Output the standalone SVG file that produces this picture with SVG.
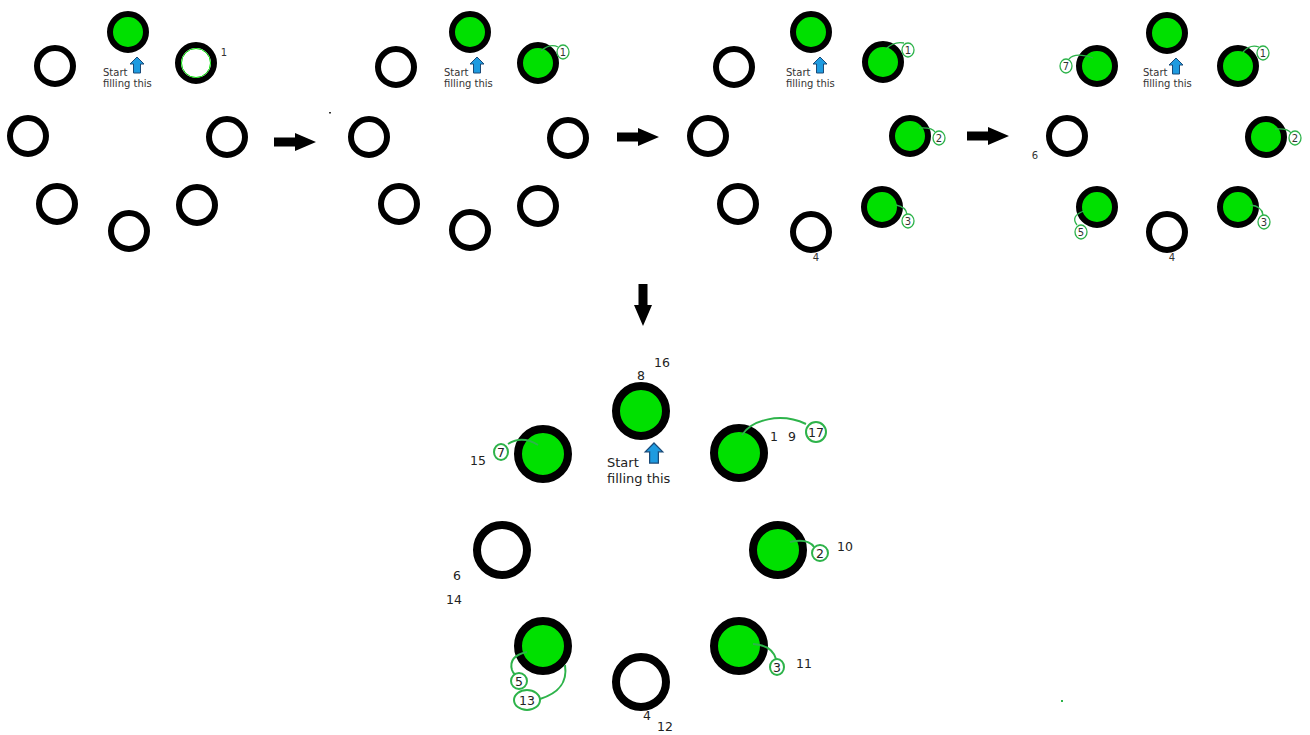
<svg xmlns="http://www.w3.org/2000/svg" width="1310" height="735" viewBox="0 0 1310 735">
<style>
.s{fill:#fff;stroke:#000;stroke-width:6}
.sf{fill:#00e000;stroke:#000;stroke-width:6}
.b{fill:#fff;stroke:#000;stroke-width:8}
.bf{fill:#00e000;stroke:#000;stroke-width:8}
.lead{fill:none;stroke:#2db34a;stroke-width:1.3}
.tag{fill:#fff;stroke:#2db34a;stroke-width:1.3}
.blead{fill:none;stroke:#2db34a;stroke-width:2}
.btag{fill:#fff;stroke:#2db34a;stroke-width:2}
.t{font-family:"DejaVu Sans",Verdana,sans-serif;fill:#333;font-size:10px}
.tb{font-family:"DejaVu Sans",Verdana,sans-serif;fill:#222;font-size:13px}
.n{font-family:"DejaVu Sans",Verdana,sans-serif;fill:#333;font-size:10px;text-anchor:middle}
.nb{font-family:"DejaVu Sans",Verdana,sans-serif;fill:#222;font-size:12.5px;text-anchor:middle}
.up{fill:#1e9be0;stroke:#1a4a78;stroke-width:1}
.big{fill:#000}
</style>
<defs>
<path id="sa" d="M0,-8 L7,-1 L3.5,-1 L3.5,8 L-3.5,8 L-3.5,-1 L-7,-1 Z"/>
<path id="ra" d="M0,-4.5 L21,-4.5 L21,-9 L42,0 L21,9 L21,4.5 L0,4.5 Z"/>
</defs>

<g id="connectors">
<use href="#ra" class="big" x="274" y="142"/>
<use href="#ra" class="big" x="617" y="137"/>
<use href="#ra" class="big" x="967" y="136"/>
<use href="#ra" class="big" transform="translate(643,284) rotate(90)"/>
</g>

<g id="panel1">
<g id="p1-top"><circle class="sf" cx="128" cy="32" r="18"/></g>
<g id="p1-ul"><circle class="s" cx="55" cy="66" r="18"/></g>
<g id="p1-ur"><circle class="s" cx="196" cy="63" r="18"/><circle cx="196" cy="63" r="14.5" fill="none" stroke="#00e000" stroke-width="1"/><text class="n" x="224" y="56">1</text></g>
<g id="p1-l"><circle class="s" cx="28" cy="136" r="18"/></g>
<g id="p1-r"><circle class="s" cx="227" cy="137" r="18"/></g>
<g id="p1-ll"><circle class="s" cx="57" cy="204" r="18"/></g>
<g id="p1-lr"><circle class="s" cx="197" cy="205" r="18"/></g>
<g id="p1-b"><circle class="s" cx="129" cy="231" r="18"/></g>
<g id="p1-note"><use href="#sa" class="up" x="137" y="65"/><text class="t" x="103" y="76">Start</text><text class="t" x="103" y="87">filling this</text></g>
</g>

<g id="panel2">
<g id="p2-top"><circle class="sf" cx="470" cy="32" r="18"/></g>
<g id="p2-ul"><circle class="s" cx="396" cy="67" r="18"/></g>
<g id="p2-ur"><circle class="sf" cx="538" cy="63" r="18"/><path class="lead" d="M541,51 Q550,43 558,47"/><ellipse class="tag" cx="563" cy="52" rx="6" ry="7"/><text class="n" x="563" y="56">1</text></g>
<g id="p2-l"><circle class="s" cx="369" cy="137" r="18"/></g>
<g id="p2-r"><circle class="s" cx="568" cy="138" r="18"/></g>
<g id="p2-ll"><circle class="s" cx="399" cy="204" r="18"/></g>
<g id="p2-lr"><circle class="s" cx="538" cy="206" r="18"/></g>
<g id="p2-b"><circle class="s" cx="470" cy="230" r="18"/></g>
<g id="p2-note"><use href="#sa" class="up" x="477" y="65"/><text class="t" x="444" y="76">Start</text><text class="t" x="444" y="87">filling this</text></g>
<rect x="329" y="112" width="2" height="1.5" fill="#333"/>
</g>

<g id="panel3">
<g id="p3-top"><circle class="sf" cx="811" cy="32" r="18"/></g>
<g id="p3-ul"><circle class="s" cx="734" cy="67" r="18"/></g>
<g id="p3-ur"><circle class="sf" cx="883" cy="62" r="18"/><path class="lead" d="M886,49 Q894,41 904,43"/><ellipse class="tag" cx="908" cy="50" rx="6" ry="7"/><text class="n" x="908" y="54">1</text></g>
<g id="p3-l"><circle class="s" cx="708" cy="136" r="18"/></g>
<g id="p3-r"><circle class="sf" cx="910" cy="136" r="18"/><path class="lead" d="M919,128 Q932,127 935,132"/><ellipse class="tag" cx="939" cy="138" rx="6" ry="7"/><text class="n" x="939" y="142">2</text></g>
<g id="p3-ll"><circle class="s" cx="738" cy="204" r="18"/></g>
<g id="p3-lr"><circle class="sf" cx="882" cy="207" r="18"/><path class="lead" d="M896,205 Q906,207 907,214"/><ellipse class="tag" cx="908" cy="221" rx="6" ry="7"/><text class="n" x="908" y="225">3</text></g>
<g id="p3-b"><circle class="s" cx="811" cy="232" r="18"/><text class="n" x="816" y="261">4</text></g>
<g id="p3-note"><use href="#sa" class="up" x="820" y="65"/><text class="t" x="786" y="76">Start</text><text class="t" x="786" y="87">filling this</text></g>
</g>

<g id="panel4">
<g id="p4-top"><circle class="sf" cx="1167" cy="33" r="18"/></g>
<g id="p4-ul"><circle class="sf" cx="1097" cy="66" r="18"/><path class="lead" d="M1093,58 Q1075,52 1069,59"/><ellipse class="tag" cx="1066" cy="66" rx="6" ry="7"/><text class="n" x="1066" y="70">7</text></g>
<g id="p4-ur"><circle class="sf" cx="1238" cy="66" r="18"/><path class="lead" d="M1243,52 Q1250,44 1259,47"/><ellipse class="tag" cx="1263" cy="53" rx="6" ry="7"/><text class="n" x="1263" y="57">1</text></g>
<g id="p4-l"><circle class="s" cx="1067" cy="136" r="18"/><text class="n" x="1035" y="159">6</text></g>
<g id="p4-r"><circle class="sf" cx="1266" cy="137" r="18"/><path class="lead" d="M1275,129 Q1288,128 1291,133"/><ellipse class="tag" cx="1295" cy="138" rx="6" ry="7"/><text class="n" x="1295" y="142">2</text></g>
<g id="p4-ll"><circle class="sf" cx="1097" cy="207" r="18"/><path class="lead" d="M1084,211 Q1070,216 1077,225"/><ellipse class="tag" cx="1081" cy="232" rx="6" ry="7"/><text class="n" x="1081" y="236">5</text></g>
<g id="p4-lr"><circle class="sf" cx="1238" cy="207" r="18"/><path class="lead" d="M1250,205 Q1262,206 1263,215"/><ellipse class="tag" cx="1264" cy="222" rx="6" ry="7"/><text class="n" x="1264" y="226">3</text></g>
<g id="p4-b"><circle class="s" cx="1167" cy="232" r="18"/><text class="n" x="1172" y="261">4</text></g>
<g id="p4-note"><use href="#sa" class="up" x="1176" y="66"/><text class="t" x="1143" y="76">Start</text><text class="t" x="1143" y="87">filling this</text></g>
</g>

<g id="panel5">
<g id="p5-top"><circle class="bf" cx="641" cy="411" r="25"/><text class="nb" x="641" y="380">8</text><text class="nb" x="662" y="367">16</text></g>
<g id="p5-ul"><circle class="bf" cx="543" cy="454" r="25"/><path class="blead" d="M538,445 Q522,435 508,444"/><ellipse class="btag" cx="501" cy="452" rx="7" ry="8"/><text class="nb" x="501" y="457">7</text><text class="nb" x="478" y="465">15</text></g>
<g id="p5-ur"><circle class="bf" cx="739" cy="453" r="25"/><path class="blead" d="M742,435 C752,420 780,412 806,424"/><ellipse class="btag" cx="816" cy="432" rx="10" ry="10"/><text class="nb" x="816" y="437">17</text><text class="nb" x="774" y="441">1</text><text class="nb" x="792" y="441">9</text></g>
<g id="p5-l"><circle class="b" cx="502" cy="550" r="25"/><text class="nb" x="457" y="580">6</text><text class="nb" x="454" y="604">14</text></g>
<g id="p5-r"><circle class="bf" cx="778" cy="550" r="25"/><path class="blead" d="M790,542 Q808,538 814,547"/><ellipse class="btag" cx="820" cy="553" rx="8" ry="8"/><text class="nb" x="820" y="558">2</text><text class="nb" x="845" y="551">10</text></g>
<g id="p5-ll"><circle class="bf" cx="543" cy="646" r="25"/><path class="blead" d="M527,652 Q508,656 512,670 Q514,675 516,674"/><ellipse class="btag" cx="519" cy="681" rx="8" ry="8"/><text class="nb" x="519" y="686">5</text><path class="blead" d="M565,665 C568,685 556,694 540,699"/><ellipse class="btag" cx="527" cy="700" rx="13" ry="10"/><text class="nb" x="527" y="705">13</text></g>
<g id="p5-lr"><circle class="bf" cx="739" cy="646" r="25"/><path class="blead" d="M753,644 Q772,645 776,659"/><ellipse class="btag" cx="777" cy="667" rx="7" ry="8"/><text class="nb" x="777" y="672">3</text><text class="nb" x="804" y="668">11</text></g>
<g id="p5-b"><circle class="b" cx="641" cy="682" r="25"/><text class="nb" x="647" y="720">4</text><text class="nb" x="665" y="731" font-size="12">12</text></g>
<g id="p5-note"><use href="#sa" class="up" transform="translate(654,453) scale(1.25)"/><text class="tb" x="607" y="467">Start</text><text class="tb" x="607" y="483">filling this</text></g>
<rect x="1061" y="700" width="2" height="2" fill="#2db34a"/>
</g>
</svg>
